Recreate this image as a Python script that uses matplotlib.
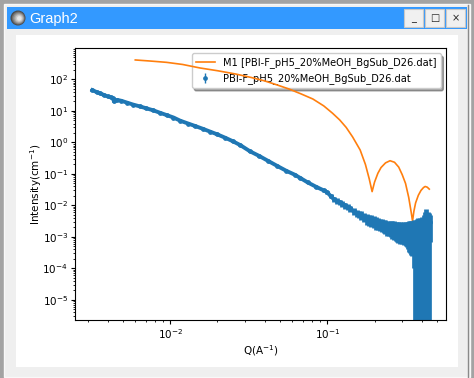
import matplotlib

matplotlib.use("Agg")
import matplotlib.pyplot as plt
from matplotlib.patches import Rectangle, Circle

data_label = "PBI-F_pH5_20%MeOH_BgSub_D26.dat"
model_label = "M1 [PBI-F_pH5_20%MeOH_BgSub_D26.dat]"
window_title = "Graph2"

# values
q_data = [0.0032, 0.0034, 0.0036, 0.0038, 0.0040, 0.0042, 0.0043, 0.0044, 0.0046, 0.0049,
          0.0053, 0.0058, 0.0064, 0.0070, 0.0078, 0.0086, 0.0095, 0.0105, 0.0116, 0.0130,
          0.0145, 0.0162, 0.0180, 0.0200, 0.0225, 0.0250, 0.0280, 0.0323, 0.0370, 0.0420,
          0.0480, 0.0550, 0.0620, 0.0673, 0.0750, 0.0850, 0.0950, 0.1000, 0.1050, 0.1097,
          0.1150, 0.1200, 0.1250, 0.1300, 0.1350, 0.1400, 0.1470, 0.1550, 0.1600, 0.1650,
          0.1720, 0.1790, 0.1850, 0.1900, 0.1970, 0.2040, 0.2110, 0.2180, 0.2230, 0.2290,
          0.2340, 0.2400, 0.2460, 0.2530, 0.2590, 0.2660, 0.2720, 0.2780, 0.2840, 0.2900,
          0.2990, 0.3090, 0.3150, 0.3200, 0.3250, 0.3300, 0.3350, 0.3400, 0.3470, 0.3550,
          0.3630, 0.3700, 0.3800, 0.3900, 0.4000, 0.4100, 0.4200, 0.4270, 0.4350, 0.4420,
          0.4500]
i_data = [46, 40, 36, 32, 29, 27, 26, 20, 22.5, 21,
          18.5, 16, 14, 12.3, 10.5, 8.8, 7.4, 6.2, 4.9, 4.0,
          3.3, 2.7, 2.2, 1.8, 1.4, 1.1, 0.82, 0.52, 0.37, 0.26,
          0.18, 0.125, 0.095, 0.0746, 0.054, 0.039, 0.030, 0.026, 0.020, 0.016,
          0.014, 0.0125, 0.0112, 0.0100, 0.0090, 0.0080, 0.0065, 0.0058, 0.0054, 0.0050,
          0.0044, 0.0039, 0.0036, 0.0034, 0.0032, 0.0030, 0.0028, 0.0026, 0.0025, 0.0024,
          0.0023, 0.0022, 0.00215, 0.0021, 0.0020, 0.00195, 0.0019, 0.00185, 0.00182, 0.0018,
          0.00178, 0.00175, 0.00174, 0.00172, 0.00172, 0.00172, 0.00173, 0.00175, 0.00177, 0.0018,
          0.0017, 0.0018, 0.0019, 0.0020, 0.0021, 0.0024, 0.0030, 0.0038, 0.0030, 0.0028,
          0.0029]
err_data = [3, 2.5, 2, 1.8, 1.5, 1.3, 1.2, 1, 1.1, 1,
            0.8, 0.7, 0.6, 0.5, 0.4, 0.35, 0.3, 0.25, 0.2, 0.16,
            0.13, 0.1, 0.08, 0.07, 0.05, 0.04, 0.03, 0.02, 0.014, 0.01,
            0.007, 0.005, 0.004, 0.003, 0.0026, 0.0024, 0.0024, 0.0025, 0.0026, 0.003,
            0.0027, 0.0025, 0.0023, 0.0021, 0.0019, 0.0018, 0.0015, 0.0015, 0.0015, 0.0015,
            0.0015, 0.0015, 0.0014, 0.0014, 0.0013, 0.0013, 0.0012, 0.0011, 0.0011, 0.0011,
            0.0011, 0.0011, 0.0011, 0.0011, 0.00112, 0.00115, 0.00116, 0.00118, 0.00119, 0.0012,
            0.0012, 0.0012, 0.00122, 0.00125, 0.0013, 0.00138, 0.00142, 0.00148, 0.00153, 0.0017,
            0.0018, 0.0019, 0.0020, 0.0021, 0.0023, 0.0026, 0.0032, 0.0040, 0.0032, 0.0030,
            0.0022]

q_model = [0.0060, 0.0075, 0.0095, 0.0120, 0.0155, 0.0200, 0.0260, 0.0330, 0.0400, 0.0480,
           0.0570, 0.0680, 0.0810, 0.0950, 0.1080, 0.1200, 0.1320, 0.1450, 0.1620, 0.1750,
           0.1850, 0.1930, 0.2000, 0.2100, 0.2200, 0.2350, 0.2510, 0.2680, 0.2850, 0.3000,
           0.3150, 0.3300, 0.3420, 0.3490, 0.3560, 0.3650, 0.3800, 0.3950, 0.4100, 0.4200,
           0.4330, 0.4460]
i_model = [417, 385, 350, 300, 232, 190, 150, 115, 90, 67,
           50, 35, 24, 14.5, 8.5, 5.2, 3.0, 1.5, 0.576, 0.2,
           0.07, 0.0275, 0.055, 0.105, 0.16, 0.225, 0.263, 0.235, 0.165, 0.095,
           0.05, 0.018, 0.0062, 0.0032, 0.0065, 0.012, 0.021, 0.030, 0.037, 0.040,
           0.038, 0.033]

fig = plt.figure(figsize=(4.74, 3.78), dpi=100, facecolor="#a3a3a3")

# window chrome, in pixels from the top left
bg = fig.add_axes([0, 0, 1, 1], zorder=-1)
bg.set_xlim(0, 474)
bg.set_ylim(378, 0)
bg.axis("off")
bg.add_patch(Rectangle((4, 4), 466, 373, fc="#efefef", ec="#f8f8f8", lw=1))
bg.add_patch(Rectangle((7, 7), 460, 22, fc="#3399ff", ec="none"))
bg.add_patch(Rectangle((16, 35), 442, 332, fc="white", ec="none"))
bg.plot([468.5, 468.5], [5, 377], color="#8a8a8a", lw=1)
for r, c, off in [(7.5, "#4a4a4a", 0), (6.5, "#6e6e6e", 0.3), (5.5, "#8f8f8f", 0.6),
                  (4.5, "#adadad", 0.9), (3.5, "#c9c9c9", 1.1), (2.3, "#e6e6e6", 1.3)]:
    bg.add_patch(Circle((18 + off, 18 + off * 0.3), r, fc=c, ec="none"))
bg.text(29, 18.5, window_title, color="white", fontsize=10.5, va="center", ha="left",
        family="Liberation Sans")
for x0, sym in [(404, "_"), (425, "□"), (446, "×")]:
    bg.add_patch(Rectangle((x0, 9), 19, 18, fc="#f0f0f0", ec="#c8c8c8", lw=0.8))
    bg.text(x0 + 9.5, 18, sym, color="#222222", fontsize=7, ha="center", va="center")

ax = fig.add_axes([75 / 474, 1 - 320 / 378, 371 / 474, 272 / 378])
ax.plot(q_model, i_model, color="tab:orange", lw=1.2, label=model_label)
ax.errorbar(q_data, i_data, yerr=err_data, fmt="-o", color="tab:blue", ms=2.4, lw=2.8,
            elinewidth=3.4)
# thin handle for the legend, the band above is drawn too thick for it
ax.errorbar([], [], yerr=[], fmt="o", color="tab:blue", ms=2.4, elinewidth=1, capsize=1.5,
            label=data_label)
ax.set_xscale("log")
ax.set_yscale("log")
ax.set_xlim(0.00248, 0.57)
ax.set_ylim(2.3e-6, 1000)
ax.set_yticks([10.0 ** e for e in range(-5, 3)])
ax.set_xlabel("Q(A$^{-1}$)", fontsize=7.5, labelpad=2)
ax.set_ylabel("Intensity(cm$^{-1}$)", fontsize=7.5, labelpad=-1)
ax.tick_params(labelsize=7.5, length=3, pad=2)
ax.tick_params(which="minor", length=1.5)
leg = ax.legend(loc="upper right", fontsize=7.1, shadow=True, borderaxespad=0.55, framealpha=1)
leg.set_zorder(1)

plt.savefig("out.png", dpi=100, facecolor=fig.get_facecolor())
